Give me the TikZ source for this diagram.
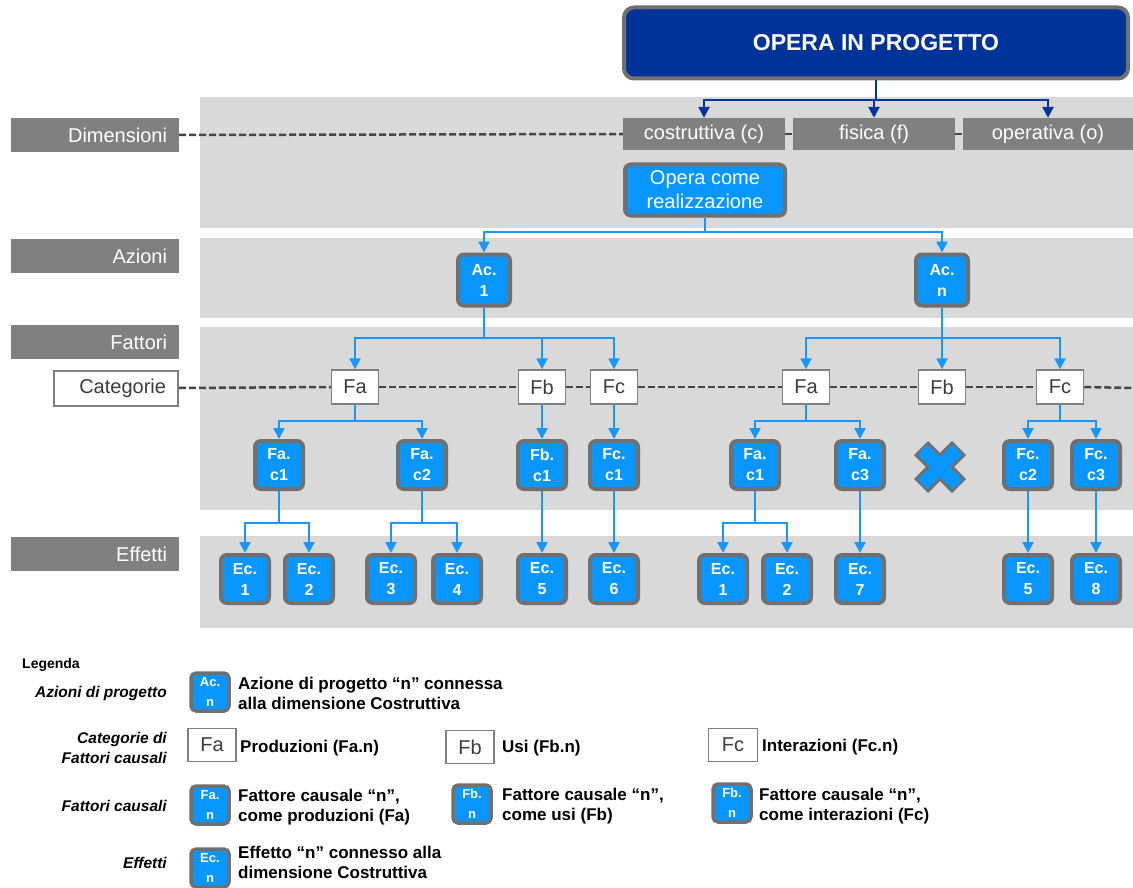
\documentclass[tikz,border=0pt]{standalone}
\usepackage{fontspec}
\setmainfont{Liberation Sans}
\usetikzlibrary{arrows.meta,shadows}
\definecolor{myblue}{RGB}{10,150,255}
\definecolor{lineblue}{RGB}{25,150,250}
\definecolor{darkblue}{RGB}{0,51,153}
\definecolor{bandgray}{RGB}{217,217,217}
\definecolor{labgray}{RGB}{128,128,128}
\definecolor{bordgray}{RGB}{112,112,112}
\definecolor{dashgray}{RGB}{70,70,70}
\definecolor{txtgray}{RGB}{60,60,60}
\newcommand\fsz[2]{\fontsize{#1}{#2}\selectfont}
\begin{document}
\begin{tikzpicture}[x=1pt,y=-1pt,
  blk/.style={rounded corners=6pt, fill=myblue, draw=bordgray, line width=4pt, text=white,
    font=\fsz{16}{21}\bfseries, align=center, minimum width=48pt, minimum height=48pt, inner sep=0pt,
    drop shadow={shadow xshift=2pt,shadow yshift=-2pt,opacity=0.3}},
  acblk/.style={blk, minimum width=52pt, minimum height=51pt},
  lgblk/.style={rounded corners=5pt, fill=myblue, draw=bordgray, line width=3.5pt, text=white,
    font=\fsz{13}{20}\bfseries, align=center, minimum width=38pt, minimum height=38pt, inner sep=0pt},
  catbox/.style={fill=white, draw=labgray, line width=1.5pt, text=txtgray, font=\fsz{20}{24},
    minimum width=47pt, minimum height=34pt, inner sep=0pt},
  dimbox/.style={fill=labgray, text=white, font=\fsz{20}{24}, minimum height=32pt, inner sep=0pt},
  leftlab/.style={fill=labgray, text=white, font=\fsz{20}{24}, minimum height=34pt, inner xsep=12pt,
    inner ysep=0pt, text width=144pt, align=right},
  dashline/.style={draw=dashgray, line width=2.5pt, dash pattern=on 7pt off 3pt},
  barr/.style={draw=lineblue, line width=2.5pt, -{Triangle[width=11pt,length=11pt]}},
  darr/.style={draw=darkblue, line width=2.5pt, -{Triangle[width=11pt,length=11pt]}},
  legtxt/.style={anchor=west, inner sep=0pt, font=\fsz{17}{20}\bfseries, align=left},
  legcat/.style={anchor=east, inner sep=0pt, font=\fsz{15.5}{20}\bfseries\itshape, align=right}
]
\useasboundingbox (0,0) rectangle (1133,888);
% bands
\fill[bandgray] (200,97) rectangle (1133,228);
\fill[bandgray] (200,238) rectangle (1133,318);
\fill[bandgray] (200,327) rectangle (1133,510);
\fill[bandgray] (200,536) rectangle (1133,628);

% title
\node[fill=darkblue, draw=bordgray, line width=4pt, rounded corners=10pt, text=white,
  font=\fsz{23}{28}\bfseries, minimum width=504pt, minimum height=71pt, inner sep=0pt] (top) at (876,43) {OPERA IN PROGETTO};

% left labels
\node[leftlab] (lDim) at (95,135) {Dimensioni};
\node[leftlab] (lAz) at (95,256) {Azioni};
\node[leftlab] (lFat) at (95,342) {Fattori};
\node[leftlab] (lEff) at (95,554) {Effetti};
\node[fill=white, draw=labgray, line width=2pt, text=txtgray, font=\fsz{20}{24}, minimum height=35pt,
  inner xsep=12pt, inner ysep=0pt, text width=100pt, align=right] (lCat) at (116,388) {Categorie};

% dimensions
\node[dimbox, minimum width=162pt] (dc) at (704,134) {costruttiva (c)};
\node[dimbox, minimum width=162pt] (df) at (874,134) {fisica (f)};
\node[dimbox, minimum width=170pt] (do) at (1048,134) {operativa (o)};

\draw[dashline] (lDim.east) -- (dc.west);
\draw[dashline] (dc.east) -- (df.west);
\draw[dashline] (df.east) -- (do.west);

\coordinate (b0) at (0,100);
\draw[darr] (top.south) -- (top.south |- b0) -| (dc.north);
\draw[darr] (top.south |- b0) -| (do.north);
\draw[darr] (df.north |- b0) -- (df.north);

% opera
\node[blk, font=\fsz{20}{24}, minimum width=160pt, minimum height=51pt] (opera) at (705,190) {Opera come\\realizzazione};

% actions
\node[acblk] (ac1) at (484,280) {Ac.\\1};
\node[acblk] (acn) at (942,280) {Ac.\\n};
\coordinate (b1) at (0,232);
\draw[barr] (opera.south) -- (opera.south |- b1) -| (ac1.north);
\draw[barr] (opera.south |- b1) -| (acn.north);

% categories
\node[catbox] (faL) at (355,387) {Fa};
\node[catbox] (fbL) at (542,387) {Fb};
\node[catbox] (fcL) at (614,387) {Fc};
\node[catbox] (faR) at (806,387) {Fa};
\node[catbox] (fbR) at (942,387) {Fb};
\node[catbox] (fcR) at (1060,387) {Fc};
\coordinate (catend) at (1133,388);
\draw[dashline] (lCat.east) -- (faL.west);
\draw[dashline] (faL.east) -- (fbL.west);
\draw[dashline] (fbL.east) -- (fcL.west);
\draw[dashline] (fcL.east) -- (faR.west);
\draw[dashline] (faR.east) -- (fbR.west);
\draw[dashline] (fbR.east) -- (fcR.west);
\draw[dashline] (fcR.east) -- (catend);

\coordinate (b2) at (0,338);
\draw[barr] (ac1.south) -- (ac1.south |- b2) -| (faL.north);
\draw[barr] (ac1.south |- b2) -| (fbL.north);
\draw[barr] (ac1.south |- b2) -| (fcL.north);
\draw[barr] (acn.south) -- (fbR.north);
\draw[barr] (acn.south |- b2) -| (faR.north);
\draw[barr] (acn.south |- b2) -| (fcR.north);

% causal factors
\node[blk] (fac1) at (279,465) {Fa.\\c1};
\node[blk] (fac2) at (422,465) {Fa.\\c2};
\node[blk] (fbc1) at (542,465) {Fb.\\c1};
\node[blk] (fcc1) at (614,465) {Fc.\\c1};
\node[blk] (fac1R) at (755,465) {Fa.\\c1};
\node[blk] (fac3) at (860,465) {Fa.\\c3};
\node[blk] (fcc2) at (1028,465) {Fc.\\c2};
\node[blk] (fcc3) at (1096,465) {Fc.\\c3};

\coordinate (b3) at (0,421);
\draw[barr] (faL.south) -- (faL.south |- b3) -| (fac1.north);
\draw[barr] (faL.south |- b3) -| (fac2.north);
\draw[barr] (fbL.south) -- (fbc1.north);
\draw[barr] (fcL.south) -- (fcc1.north);
\draw[barr] (faR.south) -- (faR.south |- b3) -| (fac1R.north);
\draw[barr] (faR.south |- b3) -| (fac3.north);
\draw[barr] (fcR.south) -- (fcR.south |- b3) -| (fcc2.north);
\draw[barr] (fcR.south |- b3) -| (fcc3.north);

% cross
\draw[draw=bordgray, line width=20pt] (921,448) -- (959,486) (959,448) -- (921,486);
\draw[draw=myblue, line width=14pt] (922.5,449.5) -- (957.5,484.5) (957.5,449.5) -- (922.5,484.5);

% effects
\node[blk] (ec1) at (245,579) {Ec.\\1};
\node[blk] (ec2) at (309,579) {Ec.\\2};
\node[blk] (ec3) at (391,579) {Ec.\\3};
\node[blk] (ec4) at (457,579) {Ec.\\4};
\node[blk] (ec5) at (542,579) {Ec.\\5};
\node[blk] (ec6) at (614,579) {Ec.\\6};
\node[blk] (ec1R) at (723,579) {Ec.\\1};
\node[blk] (ec2R) at (787,579) {Ec.\\2};
\node[blk] (ec7) at (860,579) {Ec.\\7};
\node[blk] (ec5R) at (1028,579) {Ec.\\5};
\node[blk] (ec8) at (1096,579) {Ec.\\8};

\coordinate (b4) at (0,523);
\draw[barr] (fac1.south) -- (fac1.south |- b4) -| (ec1.north);
\draw[barr] (fac1.south |- b4) -| (ec2.north);
\draw[barr] (fac2.south) -- (fac2.south |- b4) -| (ec3.north);
\draw[barr] (fac2.south |- b4) -| (ec4.north);
\draw[barr] (fbc1.south) -- (ec5.north);
\draw[barr] (fcc1.south) -- (ec6.north);
\draw[barr] (fac1R.south) -- (fac1R.south |- b4) -| (ec1R.north);
\draw[barr] (fac1R.south |- b4) -| (ec2R.north);
\draw[barr] (fac3.south) -- (ec7.north);
\draw[barr] (fcc2.south) -- (ec5R.north);
\draw[barr] (fcc3.south) -- (ec8.north);

% legend
\node[anchor=west, inner sep=0pt, font=\fsz{14}{17}\bfseries] (leg) at (22,665) {Legenda};

\node[legcat] (lgA) at (167,693) {Azioni di progetto};
\node[lgblk] (lgAi) at (210,692) {Ac.\\n};
\node[legtxt] (lgAt) at (238,693) {Azione di progetto “n” connessa\\alla dimensione Costruttiva};

\node[legcat] (lgC) at (167,748) {Categorie di\\Fattori causali};
\node[catbox, minimum width=48pt, minimum height=33pt] (lgCa) at (212,745) {Fa};
\node[legtxt] (lgCat) at (240,748) {Produzioni (Fa.n)};
\node[catbox, minimum width=48pt, minimum height=33pt] (lgCb) at (470,747) {Fb};
\node[legtxt] (lgCbt) at (502,748) {Usi (Fb.n)};
\node[catbox, minimum width=49pt, minimum height=33pt] (lgCc) at (733,745) {Fc};
\node[legtxt] (lgCct) at (762,747) {Interazioni (Fc.n)};

\node[legcat] (lgF) at (167,806) {Fattori causali};
\node[lgblk] (lgFa) at (210,805) {Fa.\\n};
\node[legtxt] (lgFat) at (238,807) {Fattore causale “n”,\\come produzioni (Fa)};
\node[lgblk] (lgFb) at (472,804) {Fb.\\n};
\node[legtxt] (lgFbt) at (502,806) {Fattore causale “n”,\\come usi (Fb)};
\node[lgblk] (lgFc) at (732,803) {Fb.\\n};
\node[legtxt] (lgFct) at (759,806) {Fattore causale “n”,\\come interazioni (Fc)};

\node[legcat] (lgE) at (167,863) {Effetti};
\node[lgblk] (lgEi) at (210,868) {Ec.\\n};
\node[legtxt] (lgEt) at (238,862) {Effetto “n” connesso alla\\dimensione Costruttiva};
\end{tikzpicture}
\end{document}
